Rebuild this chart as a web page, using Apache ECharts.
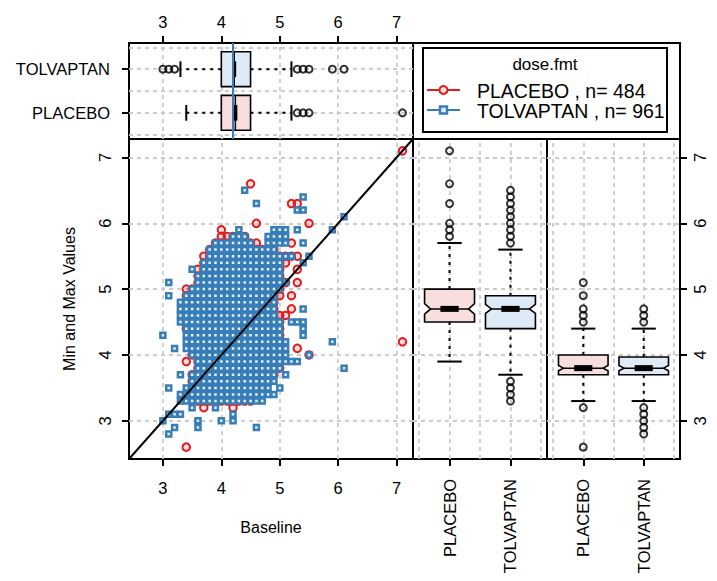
<!DOCTYPE html>
<html>
<head>
<meta charset="utf-8">
<script src="https://cdn.jsdelivr.net/npm/echarts@6/dist/echarts.min.js"></script>
<style>
  html, body { margin: 0; padding: 0; background: #fff; }
  #chart { width: 717px; height: 581px; }
</style>
</head>
<body>
<div id="chart"></div>
<script>
// ---- data ----
const doses = ['PLACEBO', 'TOLVAPTAN'];
const doseCounts = [484, 961];
const axisTicks = [3, 4, 5, 6, 7];
const axisLimits = [2.42, 7.28];
const doseLimits = [0.4, 2.6];
const doseTicks = [1, 2];
const doseGrid = [0.5, 1, 1.5, 2, 2.5];

// Min/max value vs baseline: each row is [value, baselines observed at that value]
const placeboRows = [
  [7.1, [7.1]],
  [6.6, [4.5]],
  [6.3, [5.2, 5.3]],
  [6.0, [4.6, 5.5]],
  [5.9, [4.0]],
  [5.8, [4.0, 4.1, 4.2, 4.3, 4.4]],
  [5.7, [3.9, 4.0, 4.1, 4.2, 4.3, 4.4, 4.5, 4.6, 5.2]],
  [5.6, [3.8, 3.9, 4.0, 4.1, 4.2, 4.3, 4.4, 4.5, 4.6, 4.7, 4.8, 4.9]],
  [5.5, [3.7, 3.8, 3.9, 4.0, 4.1, 4.2, 4.3, 4.4, 4.5, 4.6, 4.7, 4.8, 4.9, 5.0, 5.1, 5.2, 5.3]],
  [5.4, [3.7, 3.8, 3.9, 4.0, 4.1, 4.2, 4.3, 4.4, 4.5, 4.6, 4.7, 4.8, 4.9, 5.0, 5.1]],
  [5.3, [3.6, 3.7, 3.8, 3.9, 4.0, 4.1, 4.2, 4.3, 4.4, 4.5, 4.6, 4.7, 4.8, 4.9, 5.0, 5.3]],
  [5.2, [3.6, 3.7, 3.8, 3.9, 4.0, 4.1, 4.2, 4.3, 4.4, 4.5, 4.6, 4.7, 4.8, 4.9, 5.0]],
  [5.1, [3.6, 3.7, 3.8, 3.9, 4.0, 4.1, 4.2, 4.3, 4.4, 4.5, 4.6, 4.7, 4.8, 4.9, 5.0, 5.1, 5.3]],
  [5.0, [3.4, 3.5, 3.6, 3.7, 3.8, 3.9, 4.0, 4.1, 4.2, 4.3, 4.4, 4.5, 4.6, 4.7, 4.8, 4.9, 5.0]],
  [4.9, [3.4, 3.5, 3.6, 3.7, 3.8, 3.9, 4.0, 4.1, 4.2, 4.3, 4.4, 4.5, 4.6, 4.7, 4.8, 4.9, 5.0, 5.2]],
  [4.8, [3.4, 3.5, 3.6, 3.7, 3.8, 3.9, 4.0, 4.1, 4.2, 4.3, 4.4, 4.5, 4.6, 4.7, 4.8, 4.9]],
  [4.7, [3.4, 3.5, 3.6, 3.7, 3.8, 3.9, 4.0, 4.1, 4.2, 4.3, 4.4, 4.5, 4.6, 4.7, 4.8, 4.9, 5.2]],
  [4.6, [3.4, 3.5, 3.6, 3.7, 3.8, 3.9, 4.0, 4.1, 4.2, 4.3, 4.4, 4.5, 4.6, 4.7, 4.8, 4.9, 5.0, 5.1]],
  [4.5, [3.4, 3.5, 3.6, 3.7, 3.8, 3.9, 4.0, 4.1, 4.2, 4.3, 4.4, 4.5, 4.6, 4.7, 4.8, 4.9, 5.0]],
  [4.4, [3.4, 3.5, 3.6, 3.7, 3.8, 3.9, 4.0, 4.1, 4.2, 4.3, 4.4, 4.5, 4.6, 4.7, 4.8, 4.9, 5.0]],
  [4.3, [3.5, 3.6, 3.7, 3.8, 3.9, 4.0, 4.1, 4.2, 4.3, 4.4, 4.5, 4.6, 4.7, 4.8, 4.9, 5.0]],
  [4.2, [3.5, 3.6, 3.7, 3.8, 3.9, 4.0, 4.1, 4.2, 4.3, 4.4, 4.5, 4.6, 4.7, 4.8, 4.9, 5.0, 7.1]],
  [4.1, [3.5, 3.6, 3.7, 3.8, 3.9, 4.0, 4.1, 4.2, 4.3, 4.4, 4.5, 4.6, 4.7, 4.8, 4.9, 5.0, 5.3]],
  [4.0, [3.5, 3.6, 3.7, 3.8, 3.9, 4.0, 4.1, 4.2, 4.3, 4.4, 4.5, 4.6, 4.7, 4.8, 4.9, 5.0, 5.5]],
  [3.9, [3.4, 3.6, 3.7, 3.8, 3.9, 4.0, 4.1, 4.2, 4.3, 4.4, 4.5, 4.6, 4.7, 4.8, 4.9, 5.0]],
  [3.8, [3.6, 3.7, 3.8, 3.9, 4.0, 4.1, 4.2, 4.3, 4.4, 4.5, 4.6, 4.7, 4.8, 4.9, 5.0]],
  [3.7, [3.5, 3.6, 3.7, 3.8, 3.9, 4.0, 4.1, 4.2, 4.3, 4.4, 4.5, 4.6, 4.7, 4.8, 4.9]],
  [3.6, [3.5, 3.6, 3.7, 3.8, 3.9, 4.0, 4.1, 4.2, 4.3, 4.4, 4.5, 4.6, 4.7, 4.8]],
  [3.5, [3.5, 3.6, 3.7, 3.8, 3.9, 4.0, 4.1, 4.2, 4.3, 4.4, 4.5, 4.6, 4.7]],
  [3.4, [3.5, 3.6, 3.7, 3.8, 3.9, 4.0, 4.1, 4.2, 4.3, 4.4, 4.5, 4.6]],
  [3.3, [3.6, 3.7, 3.8, 3.9, 4.0, 4.1, 4.2, 4.3, 4.4, 4.5]],
  [3.2, [3.7, 4.2]],
  [2.6, [3.4]]
];

const tolvaptanRows = [
  [6.5, [4.4]],
  [6.4, [5.4]],
  [6.3, [4.6]],
  [6.2, [5.3, 5.4]],
  [6.1, [6.1]],
  [5.9, [4.3, 4.9, 5.0, 5.1, 5.3, 5.9]],
  [5.8, [4.2, 4.3, 4.4, 4.8, 4.9, 5.0, 5.1]],
  [5.7, [3.9, 4.0, 4.1, 4.2, 4.3, 4.4, 4.5, 4.8, 4.9, 5.0, 5.1, 5.4]],
  [5.6, [3.8, 3.9, 4.0, 4.1, 4.2, 4.3, 4.4, 4.5, 4.6, 4.7, 4.8, 4.9]],
  [5.5, [3.8, 3.9, 4.0, 4.1, 4.2, 4.3, 4.4, 4.5, 4.6, 4.7, 4.8, 4.9, 5.0, 5.1, 5.2, 5.5]],
  [5.4, [3.7, 3.8, 3.9, 4.0, 4.1, 4.2, 4.3, 4.4, 4.5, 4.6, 4.7, 4.8, 4.9, 5.0, 5.4]],
  [5.3, [3.5, 3.7, 3.8, 3.9, 4.0, 4.1, 4.2, 4.3, 4.4, 4.5, 4.6, 4.7, 4.8, 4.9, 5.0]],
  [5.2, [3.6, 3.7, 3.8, 3.9, 4.0, 4.1, 4.2, 4.3, 4.4, 4.5, 4.6, 4.7, 4.8, 4.9, 5.0]],
  [5.1, [3.1, 3.6, 3.7, 3.8, 3.9, 4.0, 4.1, 4.2, 4.3, 4.4, 4.5, 4.6, 4.7, 4.8, 4.9, 5.0, 5.1]],
  [5.0, [3.5, 3.6, 3.7, 3.8, 3.9, 4.0, 4.1, 4.2, 4.3, 4.4, 4.5, 4.6, 4.7, 4.8, 4.9, 5.0]],
  [4.9, [3.1, 3.4, 3.5, 3.6, 3.7, 3.8, 3.9, 4.0, 4.1, 4.2, 4.3, 4.4, 4.5, 4.6, 4.7, 4.8, 4.9]],
  [4.8, [3.3, 3.4, 3.5, 3.6, 3.7, 3.8, 3.9, 4.0, 4.1, 4.2, 4.3, 4.4, 4.5, 4.6, 4.7, 4.8, 4.9]],
  [4.7, [3.3, 3.4, 3.5, 3.6, 3.7, 3.8, 3.9, 4.0, 4.1, 4.2, 4.3, 4.4, 4.5, 4.6, 4.7, 4.8, 4.9, 5.4]],
  [4.6, [3.3, 3.4, 3.5, 3.6, 3.7, 3.8, 3.9, 4.0, 4.1, 4.2, 4.3, 4.4, 4.5, 4.6, 4.7, 4.8, 4.9]],
  [4.5, [3.3, 3.4, 3.5, 3.6, 3.7, 3.8, 3.9, 4.0, 4.1, 4.2, 4.3, 4.4, 4.5, 4.6, 4.7, 4.8, 4.9, 5.0, 5.2, 5.3, 5.4]],
  [4.4, [3.4, 3.5, 3.6, 3.7, 3.8, 3.9, 4.0, 4.1, 4.2, 4.3, 4.4, 4.5, 4.6, 4.7, 4.8, 4.9, 5.0, 5.4]],
  [4.3, [3.0, 3.4, 3.5, 3.6, 3.7, 3.8, 3.9, 4.0, 4.1, 4.2, 4.3, 4.4, 4.5, 4.6, 4.7, 4.8, 4.9, 5.0, 5.4]],
  [4.2, [3.4, 3.5, 3.6, 3.7, 3.8, 3.9, 4.0, 4.1, 4.2, 4.3, 4.4, 4.5, 4.6, 4.7, 4.8, 4.9, 5.0, 5.1, 5.9]],
  [4.1, [3.2, 3.4, 3.5, 3.6, 3.7, 3.8, 3.9, 4.0, 4.1, 4.2, 4.3, 4.4, 4.5, 4.6, 4.7, 4.8, 4.9, 5.0, 5.1]],
  [4.0, [3.5, 3.6, 3.7, 3.8, 3.9, 4.0, 4.1, 4.2, 4.3, 4.4, 4.5, 4.6, 4.7, 4.8, 4.9, 5.0, 5.1, 5.5]],
  [3.9, [3.6, 3.7, 3.8, 3.9, 4.0, 4.1, 4.2, 4.3, 4.4, 4.5, 4.6, 4.7, 4.8, 4.9, 5.0, 5.1, 5.2, 5.3]],
  [3.8, [3.6, 3.7, 3.8, 3.9, 4.0, 4.1, 4.2, 4.3, 4.4, 4.5, 4.6, 4.7, 4.8, 4.9, 5.0, 6.1]],
  [3.7, [3.3, 3.5, 3.6, 3.7, 3.8, 3.9, 4.0, 4.1, 4.2, 4.3, 4.4, 4.5, 4.6, 4.7, 4.8, 4.9, 5.1]],
  [3.6, [3.5, 3.6, 3.7, 3.8, 3.9, 4.0, 4.1, 4.2, 4.3, 4.4, 4.5, 4.6, 4.7, 4.8, 4.9]],
  [3.5, [3.1, 3.4, 3.5, 3.6, 3.7, 3.8, 3.9, 4.0, 4.1, 4.2, 4.3, 4.4, 4.5, 4.6, 4.7, 4.8, 5.0]],
  [3.4, [3.3, 3.4, 3.5, 3.6, 3.7, 3.8, 3.9, 4.0, 4.1, 4.2, 4.3, 4.4, 4.5, 4.6, 4.7, 4.8, 4.9]],
  [3.3, [3.3, 3.4, 3.5, 3.6, 3.7, 3.8, 3.9, 4.0, 4.1, 4.2, 4.3, 4.4, 4.5, 4.6, 4.7]],
  [3.2, [3.5, 3.9]],
  [3.1, [3.1, 3.2, 3.3, 4.2]],
  [3.0, [3.0, 3.6, 4.0, 4.2]],
  [2.9, [3.2, 3.6, 4.6]],
  [2.8, [3.1]]
];

// Box summaries per dose: [lower whisker, Q1, median, Q3, upper whisker]
const baselineStats = [[3.4, 4.0, 4.24, 4.5, 5.2], [3.3, 4.0, 4.22, 4.5, 5.2]];
const baselineOutliers = [[5.3, 5.4, 5.5, 7.1], [3.0, 3.1, 3.2, 5.3, 5.4, 5.5, 5.9, 6.1]];
const baselineCentre = 4.2;

const maxStats = [[3.9, 4.5, 4.7, 5.0, 5.7], [3.7, 4.4, 4.7, 4.9, 5.6]];
const maxNotches = [[4.62, 4.78], [4.63, 4.77]];
const maxOutliers = [[5.8, 5.9, 6.0, 6.3, 6.6, 7.1], [5.7, 5.8, 5.9, 6.0, 6.1, 6.2, 6.3, 6.4, 6.5, 3.6, 3.5, 3.4, 3.3]];

const minStats = [[3.3, 3.7, 3.8, 4.0, 4.4], [3.3, 3.7, 3.8, 3.97, 4.4]];
const minNotches = [[3.76, 3.84], [3.76, 3.84]];
const minOutliers = [[4.5, 4.6, 4.7, 4.9, 5.1, 3.2, 2.6], [4.5, 4.6, 4.7, 3.2, 3.1, 3.0, 2.9, 2.8]];

// ---- styling ----
const FONT = 'Liberation Sans, Arial, sans-serif';
const doseColors = ['#e41a1c', '#377eb8'];
const boxFills = ['#f9dede', '#deeaf5'];
const tick = { show: true, inside: false, length: 7, lineStyle: { color: '#000', width: 2 } };
const label = { color: '#000', fontSize: 16.5, fontFamily: FONT };
const nameStyle = { color: '#000', fontSize: 16, fontFamily: FONT };

function toPoints(rows) {
  const pts = [];
  rows.forEach(([v, xs]) => xs.forEach(x => pts.push([x, v])));
  return pts;
}

function outlierPoints(lists, horizontal) {
  const pts = [];
  lists.forEach((vals, i) => vals.forEach(v => pts.push(horizontal ? [v, i + 1] : [i + 1, v])));
  return pts;
}

function gridLines(xs, ys) {
  return {
    silent: true, symbol: 'none', z: 1, animation: false,
    label: { show: false },
    emphasis: { disabled: true },
    lineStyle: { color: '#cbcbcb', type: [4, 4], width: 1.8 },
    data: xs.map(v => ({ xAxis: v })).concat(ys.map(v => ({ yAxis: v })))
  };
}

function boxRenderer(stats, notches, cfg) {
  return function (params, api) {
    const i = params.dataIndex;
    const c = i + 1;
    const [lo, q1, med, q3, hi] = stats[i];
    const at = (u, v) => cfg.horizontal ? api.coord([v, u]) : api.coord([u, v]);
    const seg = (a, b, style) => ({ type: 'line', shape: { x1: a[0], y1: a[1], x2: b[0], y2: b[1] }, style });
    const hb = cfg.halfBox;
    const nd = notches ? hb * cfg.notchDepth : 0;
    const dash = { stroke: '#000', lineWidth: 2, lineDash: [3, 5] };
    const solid = { stroke: '#000', lineWidth: 2 };
    const kids = [
      seg(at(c, q1), at(c, lo), dash),
      seg(at(c, q3), at(c, hi), dash),
      seg(at(c - cfg.capHalf, lo), at(c + cfg.capHalf, lo), solid),
      seg(at(c - cfg.capHalf, hi), at(c + cfg.capHalf, hi), solid)
    ];
    let outline;
    if (notches) {
      const [n0, n1] = notches[i];
      outline = [at(c - hb, q3), at(c + hb, q3), at(c + hb, n1), at(c + hb - nd, med), at(c + hb, n0),
                 at(c + hb, q1), at(c - hb, q1), at(c - hb, n0), at(c - hb + nd, med), at(c - hb, n1)];
    } else {
      outline = [at(c - hb, q3), at(c + hb, q3), at(c + hb, q1), at(c - hb, q1)];
    }
    kids.push({ type: 'polygon', shape: { points: outline }, style: { fill: boxFills[i], stroke: '#000', lineWidth: 1.6 } });
    kids.push(seg(at(c - hb + nd, med), at(c + hb - nd, med), { stroke: '#000', lineWidth: 1.5 }));
    kids.push(seg(at(c - cfg.medHalf, med), at(c + cfg.medHalf, med), { stroke: '#000', lineWidth: cfg.medThick }));
    return { type: 'group', children: kids };
  };
}

const outlierStyle = { color: 'rgba(0,0,0,0)', borderColor: '#000', borderWidth: 2 };
const doseLabel = v => doses[Math.round(v) - 1];

const chart = echarts.init(document.getElementById('chart'), null, { renderer: 'svg' });

const option = {
  animation: false,
  backgroundColor: '#fff',
  grid: [
    { left: 129, top: 43, width: 284, height: 96 },
    { left: 129, top: 139, width: 284, height: 320 },
    { left: 413, top: 139, width: 134, height: 320 },
    { left: 547, top: 139, width: 133, height: 320 }
  ].map(g => Object.assign(g, { show: true, borderColor: '#000', borderWidth: 2, backgroundColor: 'transparent', containLabel: false, outerBoundsMode: 'none' })),
  xAxis: [
    { gridIndex: 0, type: 'value', position: 'top', min: axisLimits[0], max: axisLimits[1],
      axisLine: { show: false }, splitLine: { show: false },
      axisTick: Object.assign({ customValues: axisTicks }, tick),
      axisLabel: Object.assign({ customValues: axisTicks, margin: 13 }, label) },
    { gridIndex: 1, type: 'value', min: axisLimits[0], max: axisLimits[1],
      axisLine: { show: false }, splitLine: { show: false },
      axisTick: Object.assign({ customValues: axisTicks }, tick),
      axisLabel: Object.assign({ customValues: axisTicks, margin: 20 }, label),
      name: 'Baseline', nameLocation: 'middle', nameGap: 60, nameTextStyle: nameStyle },
    { gridIndex: 2, type: 'value', min: doseLimits[0], max: doseLimits[1],
      axisLine: { show: false }, splitLine: { show: false },
      axisTick: Object.assign({ customValues: doseTicks }, tick),
      axisLabel: Object.assign({ customValues: doseTicks, rotate: 90, margin: 20, formatter: doseLabel }, label) },
    { gridIndex: 3, type: 'value', min: doseLimits[0], max: doseLimits[1],
      axisLine: { show: false }, splitLine: { show: false },
      axisTick: Object.assign({ customValues: doseTicks }, tick),
      axisLabel: Object.assign({ customValues: doseTicks, rotate: 90, margin: 20, formatter: doseLabel }, label) }
  ],
  yAxis: [
    { gridIndex: 0, type: 'value', min: doseLimits[0], max: doseLimits[1],
      axisLine: { show: false }, splitLine: { show: false },
      axisTick: Object.assign({ customValues: doseTicks }, tick),
      axisLabel: Object.assign({ customValues: doseTicks, margin: 19, formatter: doseLabel }, label) },
    { gridIndex: 1, type: 'value', min: axisLimits[0], max: axisLimits[1],
      axisLine: { show: false }, splitLine: { show: false },
      axisTick: Object.assign({ customValues: axisTicks }, tick),
      axisLabel: Object.assign({ customValues: axisTicks, rotate: 90, margin: 16 }, label),
      name: 'Min and Max Values', nameLocation: 'middle', nameGap: 52, nameRotate: 90, nameTextStyle: nameStyle },
    { gridIndex: 2, type: 'value', min: axisLimits[0], max: axisLimits[1],
      axisLine: { show: false }, splitLine: { show: false }, axisTick: { show: false }, axisLabel: { show: false } },
    { gridIndex: 3, type: 'value', position: 'right', min: axisLimits[0], max: axisLimits[1],
      axisLine: { show: false }, splitLine: { show: false },
      axisTick: Object.assign({ customValues: axisTicks }, tick),
      axisLabel: Object.assign({ customValues: axisTicks, rotate: 90, margin: 11 }, label) }
  ],
  series: [
    // top strip: baseline by dose
    { type: 'custom', xAxisIndex: 0, yAxisIndex: 0, silent: true, z: 2,
      renderItem: boxRenderer(baselineStats, null, { horizontal: true, halfBox: 0.4, capHalf: 0.18, medHalf: 0.18, medThick: 4 }),
      data: baselineStats.map((s, i) => [s[2], i + 1]) },
    { type: 'scatter', xAxisIndex: 0, yAxisIndex: 0, silent: true, z: 3,
      symbol: 'circle', symbolSize: 7, itemStyle: outlierStyle,
      data: outlierPoints(baselineOutliers, true),
      markLine: gridLines(axisTicks, doseGrid) },
    { type: 'line', xAxisIndex: 0, yAxisIndex: 0, silent: true, z: 4, showSymbol: false,
      lineStyle: { color: doseColors[1], width: 2 },
      data: doseLimits.map(v => [baselineCentre, v]) },

    // main scatter
    { name: doses[0], type: 'scatter', xAxisIndex: 1, yAxisIndex: 1, silent: true, z: 2,
      symbol: 'circle', symbolSize: 7.5,
      itemStyle: { color: 'rgba(228,26,28,0.14)', borderColor: doseColors[0], borderWidth: 2, opacity: 1 },
      data: toPoints(placeboRows),
      markLine: gridLines(axisTicks, axisTicks) },
    { name: doses[1], type: 'scatter', xAxisIndex: 1, yAxisIndex: 1, silent: true, z: 3,
      symbol: 'rect', symbolSize: 5,
      itemStyle: { color: '#e6eef7', borderColor: doseColors[1], borderWidth: 2.5, opacity: 1 },
      data: toPoints(tolvaptanRows) },
    { type: 'line', xAxisIndex: 1, yAxisIndex: 1, silent: true, z: 4, showSymbol: false,
      lineStyle: { color: '#000', width: 2 },
      data: axisLimits.map(v => [v, v]) },

    // right strips: max and min values by dose
    { type: 'custom', xAxisIndex: 2, yAxisIndex: 2, silent: true, z: 2,
      renderItem: boxRenderer(maxStats, maxNotches, { horizontal: false, halfBox: 0.41, capHalf: 0.2, medHalf: 0.15, medThick: 6, notchDepth: 0.24 }),
      data: maxStats.map((s, i) => [i + 1, s[2]]) },
    { type: 'scatter', xAxisIndex: 2, yAxisIndex: 2, silent: true, z: 3,
      symbol: 'circle', symbolSize: 7, itemStyle: outlierStyle,
      data: outlierPoints(maxOutliers, false),
      markLine: gridLines(doseGrid, axisTicks) },
    { type: 'custom', xAxisIndex: 3, yAxisIndex: 3, silent: true, z: 2,
      renderItem: boxRenderer(minStats, minNotches, { horizontal: false, halfBox: 0.41, capHalf: 0.2, medHalf: 0.15, medThick: 6, notchDepth: 0.2 }),
      data: minStats.map((s, i) => [i + 1, s[2]]) },
    { type: 'scatter', xAxisIndex: 3, yAxisIndex: 3, silent: true, z: 3,
      symbol: 'circle', symbolSize: 7, itemStyle: outlierStyle,
      data: outlierPoints(minOutliers, false),
      markLine: gridLines(doseGrid, axisTicks) }
  ],
  graphic: [
    { type: 'rect', shape: { x: 413, y: 43, width: 267, height: 96 }, style: { fill: 'none', stroke: '#000', lineWidth: 2 } },
    { type: 'rect', shape: { x: 423, y: 48, width: 244, height: 84 }, style: { fill: 'none', stroke: '#000', lineWidth: 2 } },
    { type: 'text', style: { x: 545, y: 64, text: 'dose.fmt', fill: '#000', font: '17px ' + FONT, textAlign: 'center', textVerticalAlign: 'middle' } },
    { type: 'line', shape: { x1: 427, y1: 90, x2: 460, y2: 90 }, style: { stroke: doseColors[0], lineWidth: 2 } },
    { type: 'circle', shape: { cx: 443.5, cy: 90, r: 4 }, style: { fill: '#fbe3e3', stroke: doseColors[0], lineWidth: 2 } },
    { type: 'text', style: { x: 477, y: 91, text: doses[0] + ' , n= ' + doseCounts[0], fill: '#000', font: '19.5px ' + FONT, textVerticalAlign: 'middle' } },
    { type: 'line', shape: { x1: 427, y1: 110, x2: 460, y2: 110 }, style: { stroke: doseColors[1], lineWidth: 2 } },
    { type: 'rect', shape: { x: 440, y: 106.5, width: 7, height: 7 }, style: { fill: '#e6eef7', stroke: doseColors[1], lineWidth: 2.5 } },
    { type: 'text', style: { x: 477, y: 111, text: doses[1] + ' , n= ' + doseCounts[1], fill: '#000', font: '19.5px ' + FONT, textVerticalAlign: 'middle' } }
  ]
};

chart.setOption(option);
</script>
</body>
</html>
